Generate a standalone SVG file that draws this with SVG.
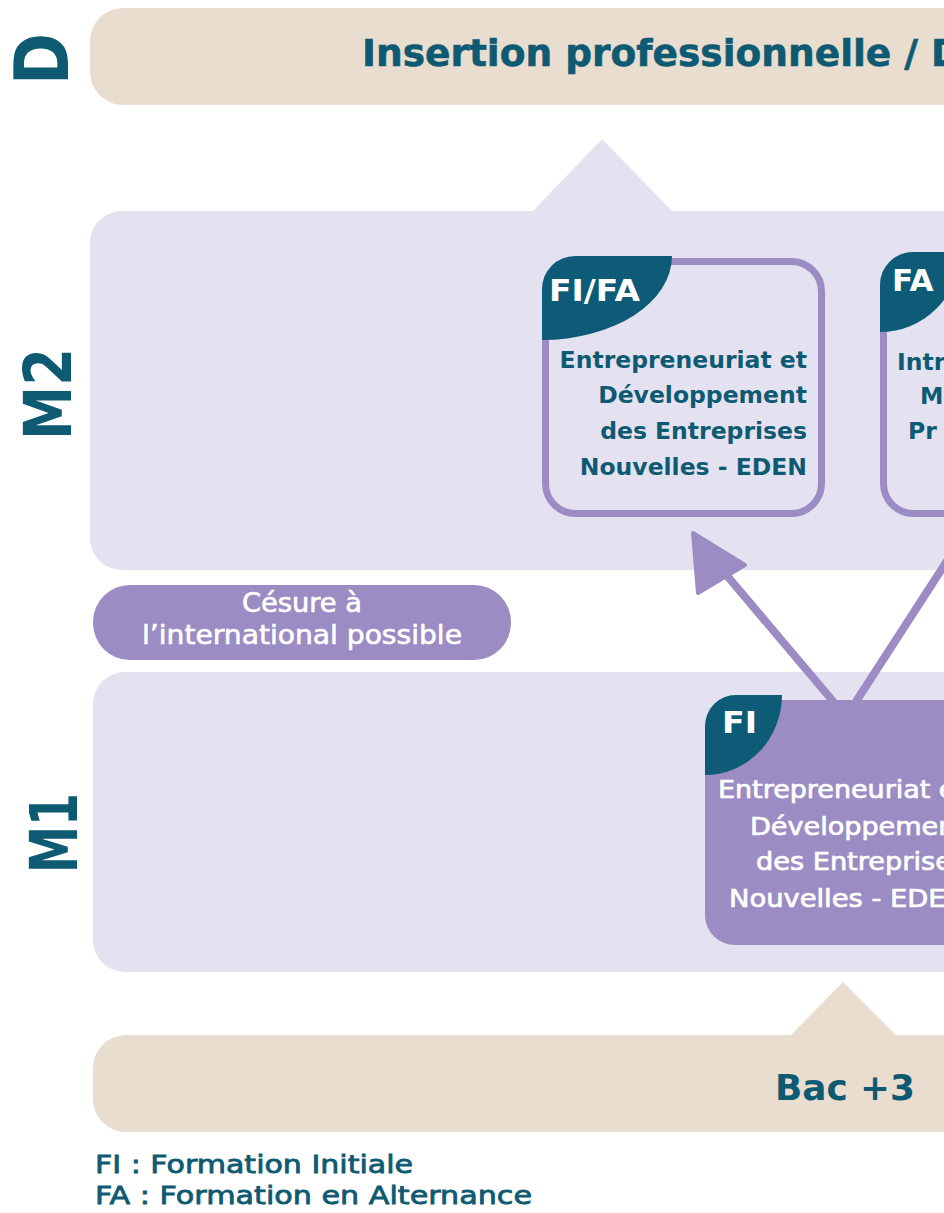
<svg xmlns="http://www.w3.org/2000/svg" width="944" height="1213" viewBox="0 0 944 1213">
<style>
.beige{fill:#e8ddcf}
.lav{fill:#e4e2f1}
.purple{fill:#9b8dc4}
.tab{fill:#0d5b77}
.bold{font-family:"DejaVu Sans","Liberation Sans",sans-serif;font-weight:bold}
.semi{font-family:"DejaVu Sans","Liberation Sans",sans-serif;font-weight:normal}
.teal{fill:#0e5a72}
.white{fill:#ffffff}
.frame{fill:none;stroke:#9b8dc4;stroke-width:7}
.conn{stroke:#9b8dc4;stroke-width:8;fill:none;stroke-linecap:round}
.head{fill:#9b8dc4;stroke:#9b8dc4;stroke-width:4;stroke-linejoin:round}
</style>
<rect width="944" height="1213" fill="#ffffff"/>

<g id="band-D">
  <rect class="beige" x="90" y="8" width="900" height="97" rx="33"/>
  <text class="bold teal" x="362" y="66" font-size="37.5" stroke="#0e5a72" stroke-width="0.6">Insertion professionnelle / D</text>
</g>
<g id="label-D">
  <text class="bold teal" transform="translate(68,59) rotate(-90)" text-anchor="middle" font-size="74" textLength="52" lengthAdjust="spacingAndGlyphs">D</text>
</g>

<g id="band-M2">
  <polygon class="lav" points="532,212 602,139 673,212"/>
  <rect class="lav" x="90" y="211" width="900" height="359" rx="32"/>
</g>
<g id="label-M2">
  <text class="bold teal" transform="translate(71,394) rotate(-90)" text-anchor="middle" font-size="65" textLength="92" lengthAdjust="spacingAndGlyphs">M2</text>
</g>

<g id="cesure">
  <rect class="purple" x="93" y="585" width="418" height="75" rx="37"/>
  <text class="semi white" x="302" y="612" font-size="26" text-anchor="middle" stroke="#ffffff" stroke-width="0.6" textLength="120" lengthAdjust="spacingAndGlyphs">Césure à</text>
  <text class="semi white" x="302" y="644" font-size="26" text-anchor="middle" stroke="#ffffff" stroke-width="0.6" textLength="320" lengthAdjust="spacingAndGlyphs">l’international possible</text>
</g>

<g id="band-M1">
  <rect class="lav" x="93" y="672" width="900" height="300" rx="32"/>
</g>
<g id="label-M1">
  <text class="bold teal" transform="translate(77,833) rotate(-90)" text-anchor="middle" font-size="66" textLength="80" lengthAdjust="spacingAndGlyphs">M1</text>
</g>

<g id="band-bac3">
  <polygon class="beige" points="790,1036 843,982 897,1036"/>
  <rect class="beige" x="93" y="1035" width="900" height="97" rx="33"/>
  <text class="bold teal" x="775" y="1100" font-size="36" textLength="140" lengthAdjust="spacingAndGlyphs">Bac +3</text>
</g>

<g id="node-m2-eden">
  <rect class="frame" x="545.5" y="261.5" width="276" height="252" rx="30"/>
  <path class="tab" d="M542,340 V289 A33,33 0 0 1 575,256 H672 A130,84 0 0 1 542,340 Z"/>
  <text class="bold white" x="549" y="301" font-size="31" textLength="91" lengthAdjust="spacingAndGlyphs">FI/FA</text>
  <g class="bold teal" font-size="23.5" text-anchor="end">
    <text x="807" y="368">Entrepreneuriat et</text>
    <text x="807" y="403">Développement</text>
    <text x="807" y="439">des Entreprises</text>
    <text x="807" y="475">Nouvelles - EDEN</text>
  </g>
</g>

<g id="node-m2-fa">
  <rect class="frame" x="883.5" y="255.5" width="276" height="258" rx="30"/>
  <path class="tab" d="M880,332 V285 A33,33 0 0 1 913,252 H960 A80,80 0 0 1 880,332 Z"/>
  <text class="bold white" x="892" y="291" font-size="31">FA</text>
  <g class="bold teal" font-size="23.5">
    <text x="897" y="370">Intr</text>
    <text x="920" y="404">M</text>
    <text x="908" y="439">Pr</text>
  </g>
</g>

<g id="connectors">
  <line class="conn" x1="832" y1="700" x2="712" y2="558"/>
  <polygon class="head" points="693,533 745,565 698,593"/>
  <line class="conn" x1="857" y1="700" x2="993" y2="490"/>
</g>

<g id="node-m1-eden">
  <rect class="purple" x="705" y="700" width="300" height="245" rx="30"/>
  <path class="tab" d="M705,775 V726 A31,31 0 0 1 736,695 H782 A77,80 0 0 1 705,775 Z"/>
  <text class="bold white" x="722" y="733" font-size="31" textLength="35" lengthAdjust="spacingAndGlyphs">FI</text>
  <g class="semi white" font-size="24" text-anchor="end" stroke="#ffffff" stroke-width="0.7">
    <text x="966" y="798" textLength="248" lengthAdjust="spacingAndGlyphs">Entrepreneuriat et</text>
    <text x="966" y="835" textLength="216" lengthAdjust="spacingAndGlyphs">Développement</text>
    <text x="966" y="870" textLength="210" lengthAdjust="spacingAndGlyphs">des Entreprises</text>
    <text x="966" y="907" textLength="237" lengthAdjust="spacingAndGlyphs">Nouvelles - EDEN</text>
  </g>
</g>

<g id="legend">
  <text class="semi teal" x="95" y="1173" font-size="25" stroke="#0e5a72" stroke-width="0.8" textLength="318" lengthAdjust="spacingAndGlyphs">FI : Formation Initiale</text>
  <text class="semi teal" x="95" y="1204" font-size="25" stroke="#0e5a72" stroke-width="0.8" textLength="437" lengthAdjust="spacingAndGlyphs">FA : Formation en Alternance</text>
</g>
</svg>
